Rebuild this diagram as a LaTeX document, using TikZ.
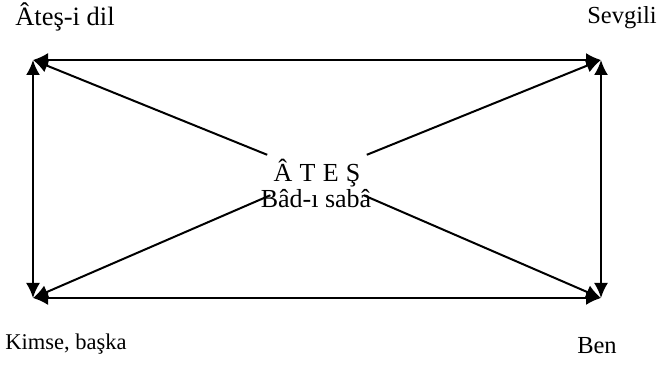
\documentclass[tikz,border=0pt]{standalone}
\usepackage{fontspec}
\setmainfont{Liberation Serif}
\usetikzlibrary{arrows.meta}
\begin{document}
\begin{tikzpicture}[x=1pt,y=1pt,
  lbl/.style={inner sep=0pt, anchor=base, font=\fontsize{24.5}{28}\selectfont},
  tip/.tip={Latex[length=15pt,width=14pt]},
  edge/.style={line width=2pt, tip-tip},
  spoke/.style={line width=2pt, -tip}]
  \useasboundingbox (0,0) rectangle (661,364);
  % corners of the square
  \coordinate (tl) at (33,304);
  \coordinate (tr) at (601,304);
  \coordinate (br) at (601,66);
  \coordinate (bl) at (33,66);
  % corner labels
  \node[lbl, font=\fontsize{26.5}{30}\selectfont] (ltl) at (65,338) {Âteş-i dil};
  \node[lbl] (ltr) at (622,340) {Sevgili};
  \node[lbl, font=\fontsize{22.5}{26}\selectfont] (lbl) at (66,15) {Kimse, başka};
  \node[lbl] (lbr) at (597,11) {Ben};
  % centre: an empty box the spokes start from, and its two lines of text
  \node[minimum width=100pt, minimum height=40pt, inner sep=0pt] (c) at (317,189) {};
  \node[lbl, font=\fontsize{26}{30}\selectfont] (t1) at (317,182) {Â\;T\;E\;Ş};
  \node[lbl, font=\fontsize{26}{30}\selectfont] (t2) at (316,156) {Bâd-ı sabâ};
  % sides
  \draw[edge] (tl) -- (tr);
  \draw[edge] (tr) -- (br);
  \draw[edge] (br) -- (bl);
  \draw[edge] (bl) -- (tl);
  % spokes
  \draw[spoke] (c) -- (tl);
  \draw[spoke] (c) -- (tr);
  \draw[spoke] (c) -- (br);
  \draw[spoke] (c) -- (bl);
\end{tikzpicture}
\end{document}
